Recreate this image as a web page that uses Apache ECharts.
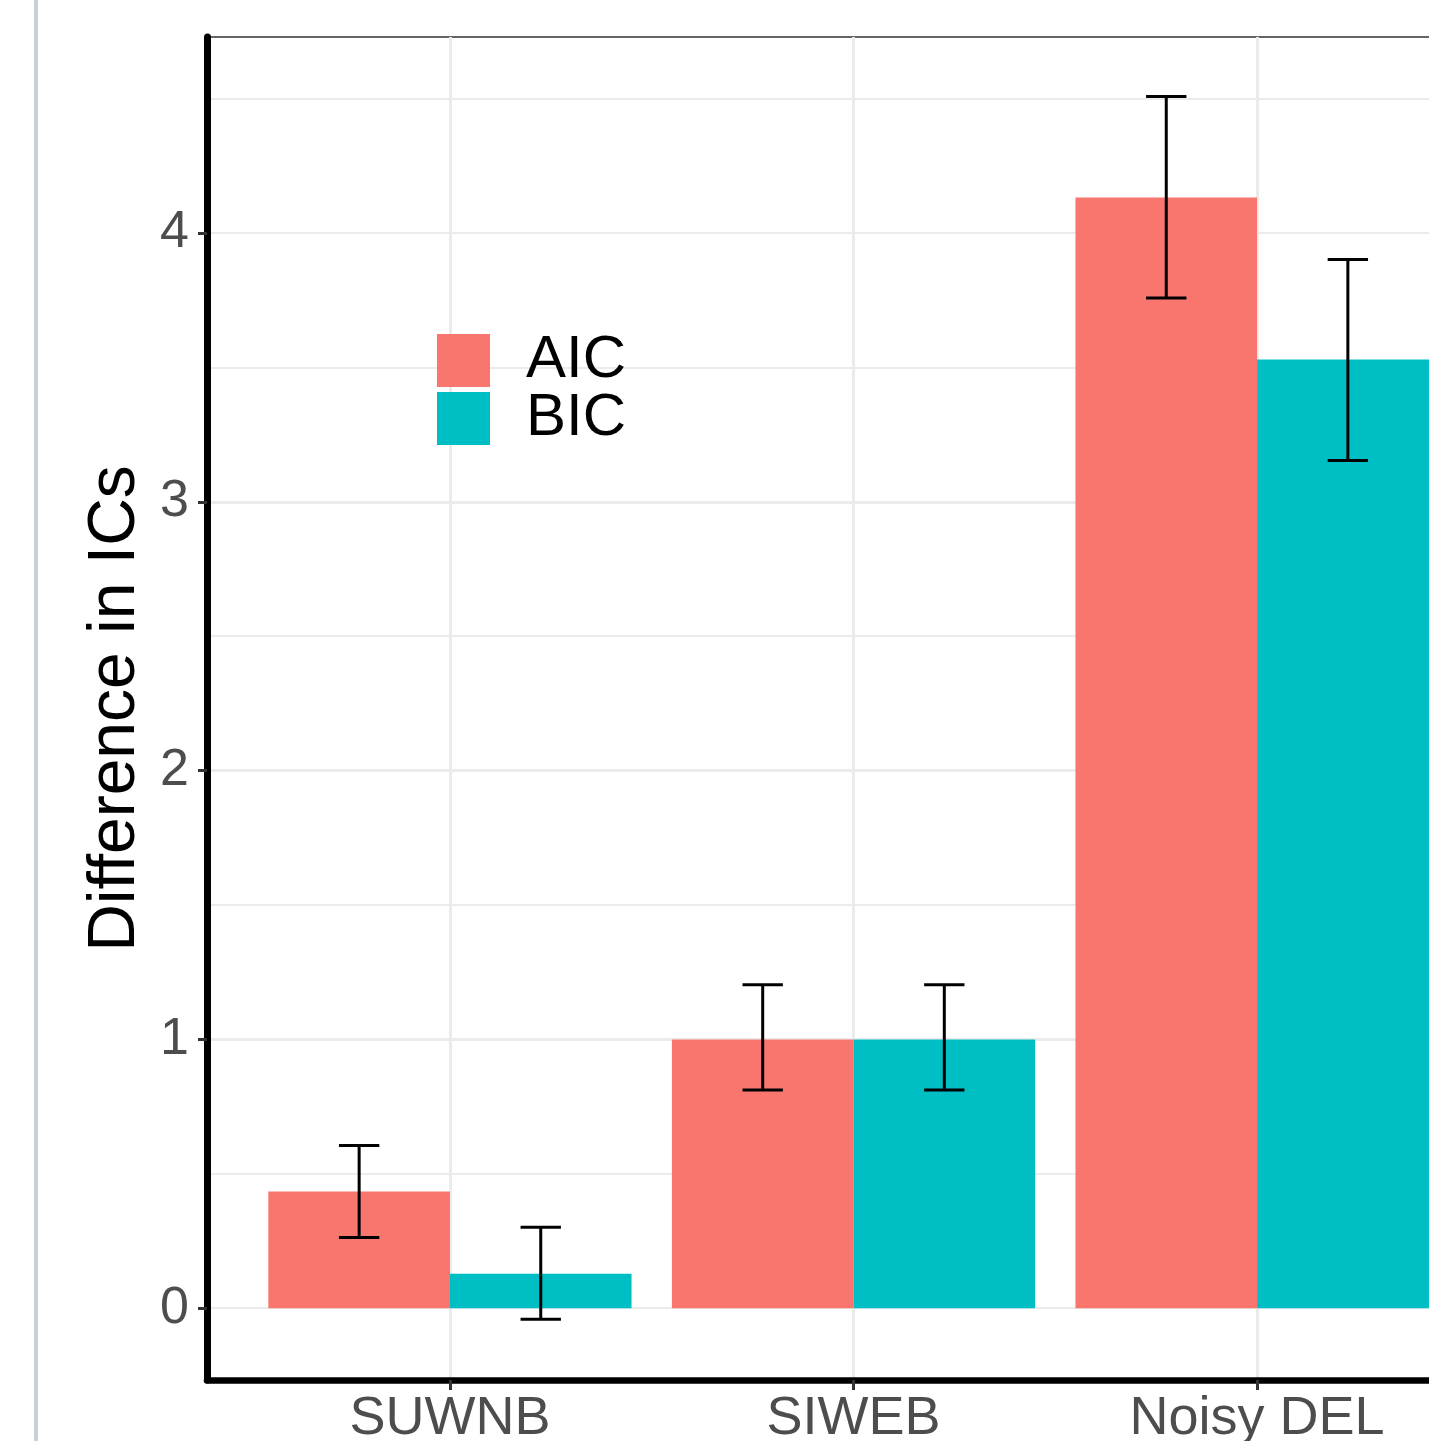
<!DOCTYPE html>
<html>
<head>
<meta charset="utf-8">
<script src="https://cdn.jsdelivr.net/npm/echarts@6/dist/echarts.min.js"></script>
<style>
  html, body { margin: 0; padding: 0; background: #fff; overflow: hidden; width: 1429px; height: 1441px; }
  #chart { width: 1500px; height: 1441px; }
</style>
</head>
<body>
<div id="chart"></div>
<script>
// ---- data ----
const categories = ['SUWNB', 'SIWEB', 'Noisy DEL'];
const seriesNames = ['AIC', 'BIC'];
const aicValues = [0.434, 1.0, 4.132];
const aicLower  = [0.263, 0.812, 3.758];
const aicUpper  = [0.605, 1.203, 4.508];
const bicValues = [0.128, 1.0, 3.529];
const bicLower  = [-0.041, 0.812, 3.154];
const bicUpper  = [0.301, 1.203, 3.901];
const yTickValues = [0, 1, 2, 3, 4];
const xTickValues = [0, 1, 2];

const FONT = '"Liberation Sans", Arial, Helvetica, sans-serif';
const colors = ['#F8766D', '#00BFC4'];
const dodge = 0.225;      // half of a bar's width in category units (0.9 / 4)
const capWidth = 0.1;     // error bar cap width in category units

function barData(vals) { return categories.map((c, i) => [i, vals[i]]); }

function errSeries(lower, upper, offset) {
  return {
    type: 'custom',
    xAxisIndex: 0, yAxisIndex: 0,
    z: 10,
    silent: true,
    data: categories.map((c, i) => [i, lower[i], upper[i]]),
    renderItem: function (params, api) {
      const x = api.value(0) + offset;
      const lo = api.coord([x, api.value(1)]);
      const hi = api.coord([x, api.value(2)]);
      const half = api.size([capWidth, 0])[0] / 2;
      const st = { stroke: '#000', lineWidth: 3 };
      return {
        type: 'group',
        children: [
          { type: 'line', shape: { x1: lo[0], y1: lo[1], x2: hi[0], y2: hi[1] }, style: st },
          { type: 'line', shape: { x1: hi[0] - half, y1: hi[1], x2: hi[0] + half, y2: hi[1] }, style: st },
          { type: 'line', shape: { x1: lo[0] - half, y1: lo[1], x2: lo[0] + half, y2: lo[1] }, style: st }
        ]
      };
    }
  };
}

const chart = echarts.init(document.getElementById('chart'), null, { renderer: 'canvas' });
const yMin = -0.267, yMax = 4.729;

chart.setOption({
  animation: false,
  backgroundColor: '#fff',
  textStyle: { fontFamily: FONT },
  graphic: [
    { type: 'rect', left: 34, top: 0, shape: { width: 4, height: 1441 }, style: { fill: '#c5d3d8' }, silent: true }
  ],
  grid: {
    left: 207, top: 37, bottom: 61, right: 0,
    outerBoundsMode: 'none',
    show: true, borderColor: '#333', borderWidth: 1.5, backgroundColor: 'transparent',
    containLabel: false
  },
  legend: {
    orient: 'vertical',
    left: 437, top: 330.5,
    padding: 0,
    itemWidth: 53, itemHeight: 53, itemGap: -2,
    icon: 'rect',
    selectedMode: false,
    data: seriesNames,
    textStyle: { fontSize: 60, color: '#000', fontFamily: FONT, padding: [5, 0, 0, 31] }
  },
  xAxis: {
    type: 'value',
    min: -0.602, max: 2.602,
    splitNumber: 3,
    axisLine: { show: true, onZero: false, lineStyle: { color: '#000', width: 6.5 } },
    axisTick: { show: true, customValues: xTickValues, length: 10, lineStyle: { color: '#333', width: 3 } },
    axisLabel: {
      customValues: xTickValues,
      formatter: v => (Number.isInteger(v) && categories[v] !== undefined) ? categories[v] : '',
      fontSize: 54, color: '#4d4d4d', fontFamily: FONT, margin: 12
    },
    splitLine: { show: true, showMinLine: true, showMaxLine: true, lineStyle: { color: '#ebebeb', width: 3 } }
  },
  yAxis: [
    {
      type: 'value',
      min: yMin, max: yMax,
      splitNumber: 5,
      position: 'left',
      name: 'Difference in ICs',
      nameLocation: 'middle',
      nameGap: 56,
      nameTextStyle: { fontSize: 66, color: '#000', fontFamily: FONT },
      axisLine: { show: true, onZero: false, lineStyle: { color: '#000', width: 7 } },
      axisTick: { show: true, customValues: yTickValues, length: 9, lineStyle: { color: '#333', width: 3 } },
      axisLabel: {
        customValues: yTickValues,
        formatter: v => Number.isInteger(v) ? String(v) : '',
        fontSize: 52, color: '#4d4d4d', fontFamily: FONT, margin: 18
      },
      splitLine: { show: true, showMinLine: false, showMaxLine: false, lineStyle: { color: '#ebebeb', width: 3 } }
    },
    {
      type: 'value',
      min: yMin, max: yMax,
      splitNumber: 10,
      position: 'left',
      axisLine: { show: false, onZero: false },
      axisTick: { show: false },
      axisLabel: { show: false },
      splitLine: { show: true, showMinLine: false, showMaxLine: false, lineStyle: { color: '#ebebeb', width: 2 } }
    }
  ],
  series: [
    {
      name: seriesNames[0], type: 'bar', xAxisIndex: 0, yAxisIndex: 0,
      data: barData(aicValues),
      barGap: '0%', barCategoryGap: '10%',
      itemStyle: { color: colors[0] }, z: 5
    },
    {
      name: seriesNames[1], type: 'bar', xAxisIndex: 0, yAxisIndex: 0,
      data: barData(bicValues),
      barGap: '0%', barCategoryGap: '10%',
      itemStyle: { color: colors[1] }, z: 5
    },
    errSeries(aicLower, aicUpper, -dodge),
    errSeries(bicLower, bicUpper, dodge)
  ]
});
</script>
</body>
</html>
